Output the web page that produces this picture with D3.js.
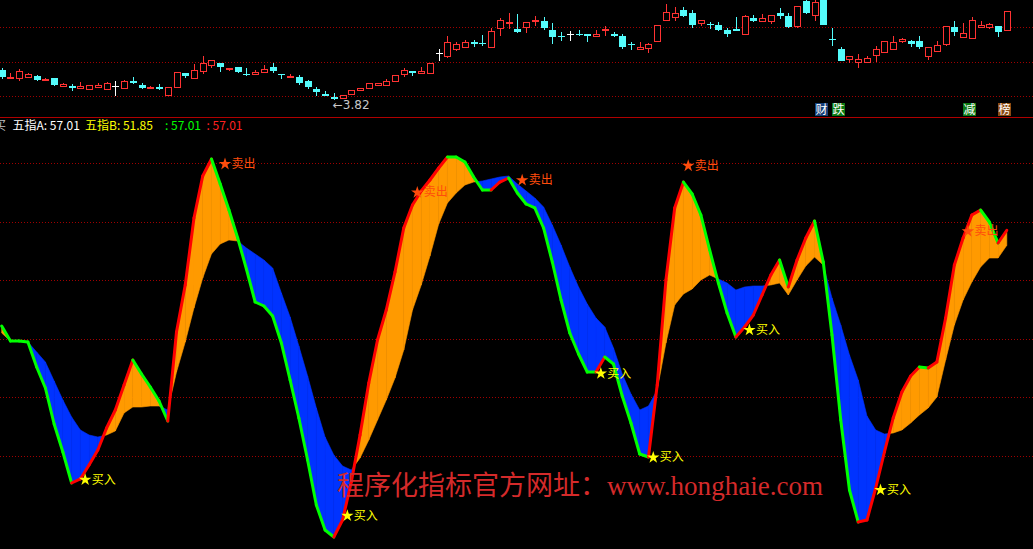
<!DOCTYPE html>
<html><head><meta charset="utf-8">
<script src="https://cdn.jsdelivr.net/npm/d3@7"></script>
<style>html,body{margin:0;padding:0;background:#000;overflow:hidden}svg{display:block}</style>
</head><body><svg id="c" width="1033" height="549"></svg>
<script>
// ---------- data ----------
const openP = [4.12,4.04,4.04,4.05,4.06,4.03,4.04,3.96,3.96,3.94,3.93,3.95,3.93,3.96,3.94,4.01,3.97,3.95,3.95,3.87,
3.95,4.09,4.04,4.11,4.17,4.19,4.13,4.15,4.08,4.08,4.10,4.15,4.08,4.06,4.05,4.01,3.93,3.88,3.85,3.84,
3.88,3.92,3.94,3.97,3.97,4.01,4.08,4.11,4.09,4.09,4.29,4.26,4.33,4.35,4.40,4.39,4.35,4.54,4.60,4.53,
4.55,4.62,4.61,4.52,4.46,4.48,4.48,4.48,4.46,4.53,4.48,4.46,4.38,4.33,4.34,4.41,4.62,4.65,4.72,4.69,
4.59,4.58,4.57,4.52,4.53,4.48,4.64,4.61,4.61,4.69,4.66,4.56,4.81,4.67,4.88,4.43,4.33,4.23,4.20,4.20,
4.27,4.30,4.33,4.41,4.41,4.41,4.26,4.31,4.38,4.55,4.45,4.44,4.55,4.55,4.56,4.52];
const highP = [4.14,4.09,4.13,4.09,4.07,4.04,4.04,3.99,3.98,4.00,3.97,3.99,4.00,4.01,4.02,4.05,3.99,3.96,3.98,3.95,
4.10,4.09,4.18,4.26,4.22,4.19,4.14,4.15,4.14,4.12,4.17,4.19,4.08,4.08,4.07,4.02,3.95,3.91,3.89,3.87,
3.92,3.94,3.99,3.99,4.03,4.07,4.14,4.11,4.15,4.19,4.33,4.46,4.40,4.42,4.42,4.47,4.54,4.64,4.69,4.68,
4.60,4.66,4.65,4.59,4.50,4.51,4.52,4.48,4.52,4.56,4.50,4.48,4.40,4.40,4.39,4.57,4.78,4.75,4.75,4.72,
4.62,4.60,4.60,4.54,4.65,4.67,4.67,4.68,4.67,4.74,4.69,4.76,4.83,4.84,4.90,4.54,4.35,4.26,4.28,4.26,
4.36,4.41,4.46,4.44,4.42,4.46,4.35,4.41,4.56,4.61,4.59,4.65,4.61,4.59,4.56,4.71];
const lowP = [4.03,4.03,4.01,4.04,4.01,4.01,3.96,3.96,3.91,3.93,3.93,3.95,3.92,3.86,3.93,3.98,3.93,3.93,3.92,3.86,
3.95,4.04,4.03,4.08,4.14,4.10,4.11,4.09,4.06,4.07,4.09,4.09,4.03,4.04,3.97,3.93,3.86,3.86,3.82,3.84,
3.88,3.91,3.94,3.96,3.97,4.01,4.05,4.06,4.08,4.09,4.21,4.24,4.31,4.34,4.35,4.36,4.35,4.46,4.53,4.49,
4.49,4.56,4.52,4.38,4.41,4.41,4.46,4.40,4.46,4.46,4.45,4.33,4.32,4.33,4.29,4.41,4.62,4.61,4.65,4.54,
4.56,4.53,4.51,4.45,4.51,4.48,4.60,4.61,4.58,4.63,4.54,4.54,4.68,4.61,4.57,4.36,4.21,4.19,4.14,4.19,
4.20,4.30,4.32,4.39,4.35,4.33,4.22,4.30,4.36,4.46,4.45,4.44,4.55,4.53,4.45,4.51];
const closeP = [4.05,4.05,4.11,4.08,4.02,4.033,3.97,3.98,3.94,3.96,3.97,3.97,3.99,3.96,4.01,3.99,3.94,3.953,3.93,3.95,
4.10,4.06,4.12,4.19,4.22,4.15,4.14,4.10,4.07,4.10,4.13,4.11,4.07,4.063,3.99,3.95,3.90,3.86,3.83,3.87,
3.92,3.94,3.99,3.99,4.01,4.07,4.12,4.09,4.11,4.19,4.29,4.40,4.38,4.40,4.38,4.387,4.51,4.62,4.603,4.50,
4.60,4.623,4.54,4.45,4.457,4.48,4.477,4.46,4.48,4.533,4.46,4.35,4.377,4.35,4.38,4.57,4.70,4.69,4.66,4.57,
4.62,4.577,4.52,4.48,4.51,4.66,4.61,4.64,4.67,4.66,4.55,4.76,4.69,4.80,4.57,4.427,4.21,4.26,4.23,4.24,
4.33,4.41,4.40,4.43,4.38,4.35,4.35,4.37,4.56,4.50,4.49,4.62,4.57,4.58,4.50,4.71];

const lineA = [24.27,19.15,19.15,18.80,10.26,3.08,-9.23,-18.80,-29.40,-28.03,-23.25,-18.12,-10.60,-4.44,4.10,12.65,7.86,3.42,-1.37,-8.21,
22.22,38.29,61.20,75.56,81.37,72.82,63.93,54.36,43.76,32.48,31.11,27.69,18.46,5.81,-7.18,-21.54,-36.92,-45.47,-47.86,-42.05,
-29.06,-12.99,4.79,19.49,29.74,42.74,57.78,65.64,70.43,74.19,78.29,82.05,82.05,80.34,75.21,70.77,70.77,73.50,74.87,69.74,
65.98,64.62,57.78,46.15,33.16,21.88,14.70,8.55,8.55,13.68,11.28,0.34,-8.89,-19.49,-20.51,4.10,40.00,64.62,73.50,69.40,
62.22,50.26,38.97,28.72,20.51,23.93,28.03,34.87,41.71,46.84,37.61,46.84,54.36,60.17,46.15,21.20,-7.86,-31.79,-42.74,-42.05,
-31.11,-18.80,-7.18,1.71,7.18,10.26,9.91,11.97,27.01,45.13,54.36,62.22,63.93,59.83,52.65,57.01];
const lineB = [21.88,19.15,19.15,18.80,15.38,11.97,5.47,-1.03,-6.84,-11.28,-12.99,-13.68,-12.99,-11.62,-5.47,-3.42,-3.42,-3.08,-3.08,-4.44,
8.55,18.80,30.43,40.68,48.89,52.31,53.68,53.33,50.94,48.89,46.84,44.10,35.56,27.35,17.44,7.18,-3.76,-13.68,-19.83,-23.59,
-24.96,-20.85,-14.70,-7.86,-1.03,6.50,16.07,29.74,38.29,48.21,59.15,66.32,69.74,72.48,73.50,73.85,74.53,75.21,75.56,72.82,
70.43,68.03,64.96,58.80,51.97,44.44,37.61,31.79,27.01,23.93,16.75,7.86,1.03,-4.44,-3.08,2.39,18.46,31.45,35.21,36.92,
40.00,41.71,40.34,38.97,36.58,37.61,37.95,37.95,38.29,38.97,34.87,40.00,44.79,47.86,45.13,33.85,24.62,14.36,5.81,-6.50,
-11.28,-12.65,-12.31,-11.28,-8.89,-6.15,-3.76,0.00,12.65,24.62,33.16,39.32,44.44,47.52,47.52,51.85];

const sellIdx = [25,47,59,78,110];
const sellVal = [79.9,70.2,74.4,79.3,56.9];
const buyIdx = [9,39,68,74,85,100];
const buyVal = [-28.0,-40.3,8.3,-20.4,23.2,-31.5];

const priceGrid = [4.55,4.20,3.86];
const indGrid = [80,60,40,20,0,-20];

const markIdx = [93,95,110,114];
const markText = ['财','跌','减','榜'];

// ---------- drawing ----------
const W = 1033, H = 549;
const svg = d3.select('#c');
svg.append('rect').attr('width',W).attr('height',H).attr('fill','#000');

const n = closeP.length;
const x = d3.scaleLinear().domain([0, n-1]).range([1.7, 1006.8]);
const yP = d3.scaleLinear().domain([3.82, 4.82]).range([100, 0]);
const yI = d3.scaleLinear().domain([0, 80]).range([397, 163]);

const defs = svg.append('defs');
defs.append('clipPath').attr('id','topClip').append('rect').attr('x',0).attr('y',0).attr('width',W).attr('height',117);
defs.append('clipPath').attr('id','botClip').append('rect').attr('x',0).attr('y',118).attr('width',W).attr('height',H-118);

const gridColor = '#a00000';
svg.append('g').selectAll('line').data(priceGrid).join('line')
  .attr('x1',0).attr('x2',W)
  .attr('y1',d=>Math.round(yP(d))+0.5).attr('y2',d=>Math.round(yP(d))+0.5)
  .attr('stroke',gridColor).attr('stroke-dasharray','1,2');
svg.append('line').attr('x1',0).attr('x2',W).attr('y1',117.5).attr('y2',117.5).attr('stroke','#b00000');
svg.append('g').selectAll('line').data(indGrid).join('line')
  .attr('x1',0).attr('x2',W)
  .attr('y1',d=>Math.round(yI(d))+0.5).attr('y2',d=>Math.round(yI(d))+0.5)
  .attr('stroke',gridColor).attr('stroke-dasharray','1,2');

// candles
const UP='#ff3232', DN='#54fcfc', EQ='#ffffff';
const cg = svg.append('g').attr('clip-path','url(#topClip)').attr('shape-rendering','crispEdges');
const idx = d3.range(n);
const colOf = i => closeP[i] > openP[i] ? UP : (closeP[i] < openP[i] ? DN : EQ);
cg.selectAll('line.w').data(idx).join('line').attr('class','w')
  .attr('x1',i=>Math.round(x(i))+0.5).attr('x2',i=>Math.round(x(i))+0.5)
  .attr('y1',i=>yP(highP[i])).attr('y2',i=>yP(lowP[i]))
  .attr('stroke',colOf);
cg.selectAll('rect.b').data(idx).join('rect').attr('class','b')
  .attr('x',i=>Math.round(x(i))-3+ (closeP[i]>openP[i]?0.5:0))
  .attr('y',i=>Math.round(yP(Math.max(openP[i],closeP[i])))+(closeP[i]>openP[i]?0.5:0))
  .attr('width',i=>closeP[i]>openP[i]?6:7)
  .attr('height',i=>Math.max(1, Math.round(Math.abs(yP(openP[i])-yP(closeP[i])))))
  .attr('fill',i=>closeP[i]>openP[i]?'#000':colOf(i))
  .attr('stroke',i=>closeP[i]>openP[i]?UP:'none');

// min label
const minI = d3.minIndex(lowP);
svg.append('text').attr('x',x(minI)-1).attr('y',yP(lowP[minI])+9)
  .attr('fill','#c8c8c8').attr('font-family','DejaVu Sans, sans-serif').attr('font-size',12)
  .text('\u2190' + d3.format('.2f')(lowP[minI]));

// right marks
const markBg = {'财':'#163f78','跌':'#0c7a14','减':'#0c7a14','榜':'#8a4a12'};
const mg = svg.append('g');
markIdx.forEach((mi,k)=>{
  mg.append('rect').attr('x',Math.round(x(mi))).attr('y',103).attr('width',13).attr('height',13).attr('fill',markBg[markText[k]]);
  mg.append('text').attr('x',Math.round(x(mi))+6.5).attr('y',114).attr('text-anchor','middle')
    .attr('fill','#fff').attr('font-size',12).attr('font-family','Noto Sans CJK SC').text(markText[k]);
});

// header
const fmt = d3.format('.2f');
const hdr = [
  {t:'买', x:-6, c:'#c0c0c0'},
  {t:'五指A: '+fmt(lineA[n-1]), x:12.5, c:'#ffffff'},
  {t:'五指B: '+fmt(lineB[n-1]), x:85, c:'#ffff00'},
  {t:': '+fmt(lineA[n-1]), x:165, c:'#00ff00'},
  {t:': '+fmt(lineA[n-1]), x:206.5, c:'#ff2020'}
];
svg.append('g').selectAll('text').data(hdr).join('text')
  .attr('x',d=>d.x).attr('y',130).attr('fill',d=>d.c)
  .attr('font-size',12).attr('font-family','Noto Sans CJK SC, sans-serif').text(d=>d.t);

// indicator fill
const bg = svg.append('g').attr('clip-path','url(#botClip)');
const ORANGE='#ff9a00', BLUE='#0033ff';
const fg = bg.append('g');
for (let i=1;i<n;i++){
  const d0 = lineA[i-1]-lineB[i-1], d1 = lineA[i]-lineB[i];
  const x0=x(i-1), x1=x(i);
  const a0=yI(lineA[i-1]), a1=yI(lineA[i]), b0=yI(lineB[i-1]), b1=yI(lineB[i]);
  const polys=[];
  if ((d0>=0 && d1>=0) || (d0<=0 && d1<=0)) {
    polys.push({p:[[x0,a0],[x1,a1],[x1,b1],[x0,b0]], c:(d0+d1)>=0?ORANGE:BLUE});
  } else {
    const t = d0/(d0-d1);
    const xc = x0+t*(x1-x0), yc = a0+t*(a1-a0);
    polys.push({p:[[x0,a0],[xc,yc],[x0,b0]], c:d0>0?ORANGE:BLUE});
    polys.push({p:[[xc,yc],[x1,a1],[x1,b1]], c:d1>0?ORANGE:BLUE});
  }
  polys.forEach(q=>{
    fg.append('path').attr('d','M'+q.p.map(p=>p.join(',')).join('L')+'Z')
      .attr('fill',q.c).attr('stroke',q.c).attr('stroke-width',0.6);
  });
}
const lg = bg.append('g');
const ln = d3.line().x(d=>x(d)).y(d=>yI(lineA[d]));
for (let i=1;i<n;i++){
  lg.append('path').attr('d',ln([i-1,i])).attr('fill','none')
    .attr('stroke', lineA[i]>lineA[i-1]?'#ff0000':'#00ff00')
    .attr('stroke-width',3).attr('stroke-linecap','round');
}

// signals
const sg = svg.append('g').attr('font-family','Noto Sans CJK SC, sans-serif').attr('font-size',12);
const star = d3.symbol().type(d3.symbolStar).size(48);
function sig(i, v, label, col){
  const cx = x(i)+4.8, cy = yI(v);
  sg.append('path').attr('d',star()).attr('transform',`translate(${cx},${cy+0.8})`).attr('fill',col);
  sg.append('text').attr('x',cx+6.5).attr('y',cy).attr('dy','0.4em').attr('fill',col).text(label);
}
sellIdx.forEach((si,k)=>sig(si, sellVal[k], '卖出', '#ff4c0c'));
buyIdx.forEach((bi,k)=>sig(bi, buyVal[k], '买入', '#ffff00'));

// watermark
const wm = svg.append('text').attr('x',337).attr('y',495).attr('fill','#d42a2a').attr('font-size',27);
wm.append('tspan').attr('font-family','Noto Sans CJK SC').attr('textLength',270).attr('lengthAdjust','spacingAndGlyphs').text('程序化指标官方网址：');
wm.append('tspan').attr('font-family','Liberation Serif, DejaVu Serif, serif').attr('textLength',216).attr('lengthAdjust','spacingAndGlyphs').text('www.honghaie.com');
</script>
</body></html>
